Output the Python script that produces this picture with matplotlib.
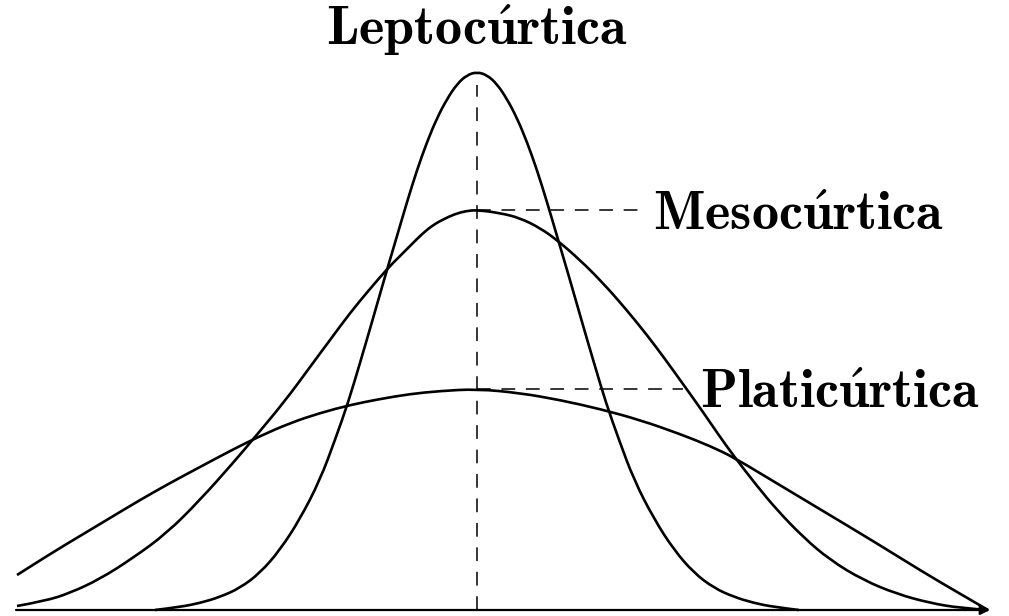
import numpy as np
from matplotlib import pyplot as plt
from matplotlib.path import Path
from matplotlib.patches import PathPatch

# curves: x position and height above the base line
lepto_x = [155, 180, 200, 220, 240, 260, 280, 300, 320, 335, 348, 360, 372, 384, 397, 407, 417, 427, 437, 447, 457, 467, 477,
           487, 497, 507, 517, 527, 537, 547, 557, 570, 582, 594, 606, 619, 634, 654, 674, 694, 714, 734, 754, 774, 799]
lepto_h = [0, 3, 7, 13, 22, 37, 60, 91, 130, 170, 207, 247, 288, 330, 374, 408, 440, 468, 492, 511, 526, 535, 538,
           535, 526, 511, 492, 468, 440, 408, 374, 330, 288, 247, 207, 170, 130, 91, 60, 37, 22, 13, 7, 3, 0]

meso_x = [17, 45, 70, 100, 133, 167, 200, 233, 255, 285, 310, 330, 350, 369, 388, 400, 411, 422, 433, 444, 455, 466, 477,
          500, 520, 540, 557, 580, 603, 625, 647, 665, 683, 703, 718, 733, 757, 777, 803, 830, 863, 897, 930, 960, 988]
meso_h = [4, 9, 17, 31, 52, 77, 110, 147, 173, 209, 243, 270, 297, 320, 342, 354, 365, 376, 385, 391, 396, 399, 400,
          397, 392, 382, 370, 350, 327, 302, 275, 251, 226, 198, 176, 155, 124, 100, 73, 50, 30, 16, 7, 2, 0]

plati_x = [17, 50, 80, 110, 140, 170, 200, 230, 258, 290, 320, 350, 380, 410, 440, 477,
           520, 560, 600, 640, 680, 710, 733, 773, 823, 873, 923, 957, 988]
plati_h = [35, 56, 74, 92, 110, 127, 143, 159, 173, 187, 197, 205, 211, 216, 219, 221,
           217, 210, 201, 190, 176, 164, 153, 129, 99, 69, 38, 18, 0]

labels = [r'$\mathbf{Leptoc\acute{u}rtica}$', r'$\mathbf{Mesoc\acute{u}rtica}$', r'$\mathbf{Platic\acute{u}rtica}$']

plt.rcParams['mathtext.fontset'] = 'cm'


def spline_path(xs, ys):
    # quadratic b-spline through the read points (corners rounded off like xfig splines)
    pts = np.column_stack([xs, ys]).astype(float)
    verts = [pts[0]]
    codes = [Path.MOVETO]
    for i in range(1, len(pts) - 1):
        end = pts[i + 1] if i == len(pts) - 2 else (pts[i] + pts[i + 1]) / 2
        verts += [pts[i], end]
        codes += [Path.CURVE3, Path.CURVE3]
    return Path(verts, codes)


fig = plt.figure(figsize=(10.09, 6.16), dpi=100)
ax = fig.add_axes([0, 0, 1, 1])
ax.set_xlim(0, 1009)
ax.set_ylim(-6, 610)
ax.axis('off')

for xs, hs in [(lepto_x, lepto_h), (meso_x, meso_h), (plati_x, plati_h)]:
    ax.add_patch(PathPatch(spline_path(xs, hs), fill=False, edgecolor='k', lw=1.9, capstyle='butt'))

# base line with arrow
ax.annotate('', xy=(990, 0), xytext=(16, 0),
            arrowprops=dict(arrowstyle='-|>', lw=1.6, color='k', mutation_scale=14, shrinkA=0, shrinkB=0))

# dashed guides
centre = lepto_x[int(np.argmax(lepto_h))]
dash = dict(color='k', lw=1.1, dashes=(9, 7))
ax.plot([centre, centre], [0, 525], **dash)
ax.plot([centre, 640], [max(meso_h)] * 2, **dash)
ax.plot([centre, 683], [max(plati_h)] * 2, **dash)

ax.text(centre, 565, labels[0], fontsize=39, ha='center', va='baseline')
ax.text(653, 380, labels[1], fontsize=39, ha='left', va='baseline')
ax.text(700, 202, labels[2], fontsize=39, ha='left', va='baseline')

fig.savefig('out.png', dpi=100, facecolor='white')
